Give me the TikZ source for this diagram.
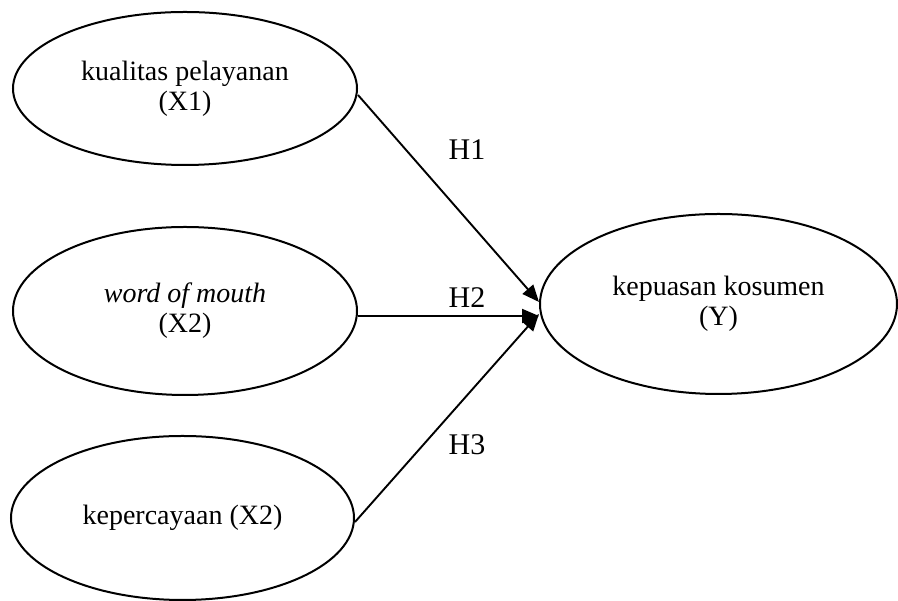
\documentclass[tikz,border=0pt]{standalone}
\usepackage{fontspec}
\setmainfont{Liberation Serif}
\usetikzlibrary{shapes.geometric,arrows.meta}
\tikzset{
  var/.style={draw=black, line width=2pt, ellipse, inner sep=0pt, align=center,
    font=\fontsize{28}{30}\selectfont},
  conn/.style={line width=1.9pt, -{Triangle[length=17pt,width=14pt]}},
  hlab/.style={font=\fontsize{30}{32}\selectfont, inner sep=0pt}
}
\begin{document}
\begin{tikzpicture}[x=1pt,y=1pt]
\useasboundingbox (0,0) rectangle (898,601);
\node[var, minimum width=344pt, minimum height=153pt] (x1) at (185,512.5) {kualitas pelayanan\\(X1)};
\node[var, minimum width=344pt, minimum height=168pt] (x2) at (185,290) {\textit{word of mouth}\\(X2)};
\node[var, minimum width=343pt, minimum height=164pt] (x3) at (182.5,83) {kepercayaan (X2)};
\node[var, minimum width=357pt, minimum height=180pt] (y) at (718.5,297) {kepuasan kosumen\\(Y)};
\draw[conn] ([yshift=-6.5pt]x1.east) -- ([yshift=2pt]y.west);
\draw[conn] ([yshift=-5pt]x2.east) -- ([yshift=-12pt]y.west);
\draw[conn] ([yshift=-4pt]x3.east) -- ([yshift=-10pt]y.west);
\node[hlab] (h1) at (467,451) {H1};
\node[hlab] (h2) at (467,303) {H2};
\node[hlab] (h3) at (467,156) {H3};
\end{tikzpicture}
\end{document}
